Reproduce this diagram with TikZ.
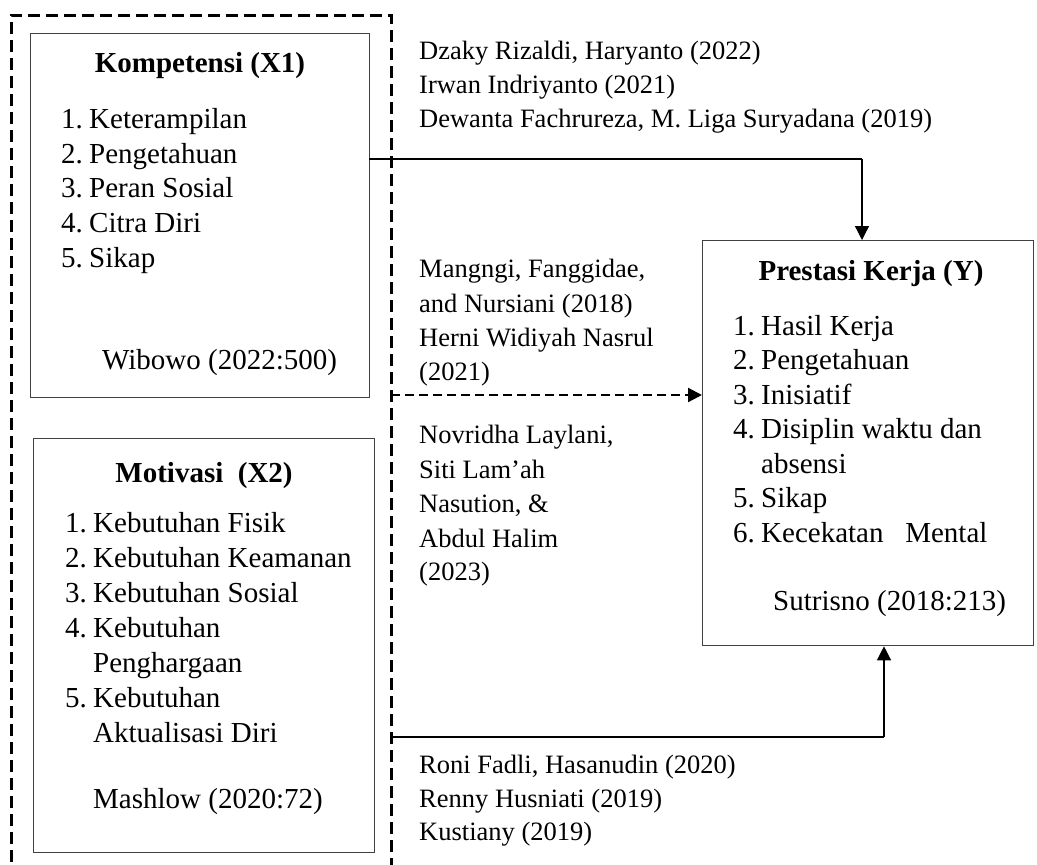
\documentclass[tikz,border=0pt]{standalone}
\usepackage{fontspec}
\setmainfont{Liberation Serif}
\usetikzlibrary{arrows.meta}
\tikzset{
  box/.style={draw=black!75, line width=1.3pt, inner sep=0pt, anchor=north west},
  big/.style={font=\fontsize{29}{35}\selectfont, inner sep=0pt},
  small/.style={font=\fontsize{26.5}{34}\selectfont, inner sep=0pt},
  conn/.style={draw=black, line width=1.3pt},
  tip/.style={-{Triangle[length=14pt,width=14pt]}},
  border/.style={draw=black, line width=3pt, dash pattern=on 12pt off 6pt},
  dconn/.style={draw=black, line width=2.2pt, dash pattern=on 9pt off 5pt},
}
\begin{document}
\begin{tikzpicture}[x=1pt,y=-1pt]
\useasboundingbox (0,0) rectangle (1037,865);
% dashed enclosure
\coordinate (bl) at (11,880);
\coordinate (tl) at (11,15);
\coordinate (tr) at (391,15);
\coordinate (br) at (391,880);
\draw[border] (bl) -- (tl) -- (tr) -- (br);
% boxes
\node[box, minimum width=339pt, minimum height=364pt] (x1) at (30,33) {};
\node[box, minimum width=341pt, minimum height=414pt] (x2) at (33,438) {};
\node[box, minimum width=331pt, minimum height=405pt] (py) at (702,240) {};
% X1 text
\node[big, anchor=base] (x1h) at (200,72) {\textbf{Kompetensi (X1)}};
\node[big, anchor=base west] (x1n1) at (61,128) {1.};
\node[big, anchor=base west] (x1t1) at (89,128) {Keterampilan};
\node[big, anchor=base west] (x1n2) at (61,163) {2.};
\node[big, anchor=base west] (x1t2) at (89,163) {Pengetahuan};
\node[big, anchor=base west] (x1n3) at (61,197) {3.};
\node[big, anchor=base west] (x1t3) at (89,197) {Peran Sosial};
\node[big, anchor=base west] (x1n4) at (61,232) {4.};
\node[big, anchor=base west] (x1t4) at (89,232) {Citra Diri};
\node[big, anchor=base west] (x1n5) at (61,267) {5.};
\node[big, anchor=base west] (x1t5) at (89,267) {Sikap};
\node[big, anchor=base west] (x1s) at (102,369) {Wibowo (2022:500)};
% X2 text
\node[big, anchor=base] (x2h) at (204,482) {\textbf{Motivasi\ \ (X2)}};
\node[big, anchor=base west] (x2n1) at (65,532) {1.};
\node[big, anchor=base west] (x2t1) at (93,532) {Kebutuhan Fisik};
\node[big, anchor=base west] (x2n2) at (65,567) {2.};
\node[big, anchor=base west] (x2t2) at (93,567) {Kebutuhan Keamanan};
\node[big, anchor=base west] (x2n3) at (65,602) {3.};
\node[big, anchor=base west] (x2t3) at (93,602) {Kebutuhan Sosial};
\node[big, anchor=base west] (x2n4) at (65,637) {4.};
\node[big, anchor=base west] (x2t4) at (93,637) {Kebutuhan};
\node[big, anchor=base west] (x2t4b) at (93,672) {Penghargaan};
\node[big, anchor=base west] (x2n5) at (65,707) {5.};
\node[big, anchor=base west] (x2t5) at (93,707) {Kebutuhan};
\node[big, anchor=base west] (x2t5b) at (93,742) {Aktualisasi Diri};
\node[big, anchor=base west] (x2s) at (93,808) {Mashlow (2020:72)};
% Y text
\node[big, anchor=base] (pyh) at (871,280) {\textbf{Prestasi Kerja (Y)}};
\node[big, anchor=base west] (pyn1) at (733,335) {1.};
\node[big, anchor=base west] (pyt1) at (761,335) {Hasil Kerja};
\node[big, anchor=base west] (pyn2) at (733,369.5) {2.};
\node[big, anchor=base west] (pyt2) at (761,369.5) {Pengetahuan};
\node[big, anchor=base west] (pyn3) at (733,404) {3.};
\node[big, anchor=base west] (pyt3) at (761,404) {Inisiatif};
\node[big, anchor=base west] (pyn4) at (733,438.5) {4.};
\node[big, anchor=base west] (pyt4) at (761,438.5) {Disiplin waktu dan};
\node[big, anchor=base west] (pyt4b) at (761,473) {absensi};
\node[big, anchor=base west] (pyn5) at (733,507.5) {5.};
\node[big, anchor=base west] (pyt5) at (761,507.5) {Sikap};
\node[big, anchor=base west] (pyn6) at (733,542) {6.};
\node[big, anchor=base west] (pyt6) at (761,542) {Kecekatan\hspace{0.75em}Mental};
\node[big, anchor=base west] (pys) at (773,610) {Sutrisno (2018:213)};
% references between
\node[small, anchor=base west] (r1a) at (419,59) {Dzaky Rizaldi, Haryanto (2022)};
\node[small, anchor=base west] (r1b) at (419,93) {Irwan Indriyanto (2021)};
\node[small, anchor=base west] (r1c) at (419,127) {Dewanta Fachrureza, M. Liga Suryadana (2019)};
\node[small, anchor=base west] (r2a) at (419,277) {Mangngi, Fanggidae,};
\node[small, anchor=base west] (r2b) at (419,312) {and Nursiani (2018)};
\node[small, anchor=base west] (r2c) at (419,346) {Herni Widiyah Nasrul};
\node[small, anchor=base west] (r2d) at (419,380) {(2021)};
\node[small, anchor=base west] (r3a) at (419,443) {Novridha Laylani,};
\node[small, anchor=base west] (r3b) at (419,478) {Siti Lam’ah};
\node[small, anchor=base west] (r3c) at (419,512) {Nasution, \&};
\node[small, anchor=base west] (r3d) at (419,547) {Abdul Halim};
\node[small, anchor=base west] (r3e) at (419,580) {(2023)};
\node[small, anchor=base west] (r4a) at (419,773) {Roni Fadli, Hasanudin (2020)};
\node[small, anchor=base west] (r4b) at (419,807) {Renny Husniati (2019)};
\node[small, anchor=base west] (r4c) at (419,840) {Kustiany (2019)};
% connectors
\coordinate (c1s) at (369,159);
\coordinate (c1k) at (862,159);
\draw[conn] (c1s) -- (c1k);
\draw[conn, tip] (c1k) -- (c1k |- py.north);
\coordinate (c2s) at (391,395);
\draw[dconn, tip] (c2s) -- (c2s -| py.west);
\coordinate (c3s) at (391,737);
\coordinate (c3k) at (884,737);
\draw[conn] (c3s) -- (c3k);
\draw[conn, tip] (c3k) -- (c3k |- py.south);
\end{tikzpicture}
\end{document}
